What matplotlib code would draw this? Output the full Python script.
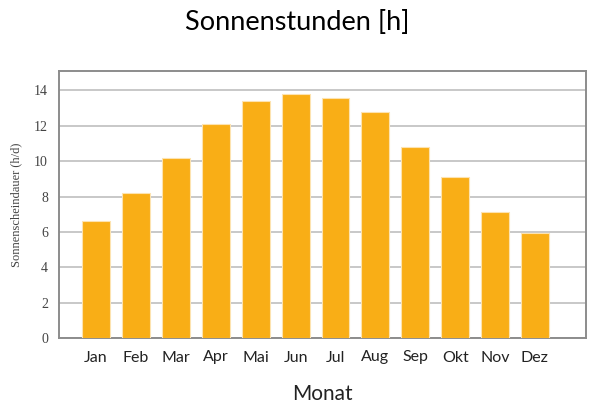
import matplotlib.pyplot as plt
import numpy as np

months = ["Jan", "Feb", "Mar", "Apr", "Mai", "Jun", "Jul", "Aug", "Sep", "Okt", "Nov", "Dez"]
sun_hours = [6.6, 8.2, 10.2, 12.1, 13.4, 13.8, 13.6, 12.8, 10.8, 9.1, 7.1, 5.95]

fig = plt.figure(figsize=(5.89, 4.05), dpi=100)
ax = fig.add_axes([59 / 589, 1 - 338 / 405, (586 - 59) / 589, (338 - 71) / 405])

x = np.arange(len(months))
ax.bar(x, sun_hours, width=0.7, color="#F9AE16", edgecolor="#fde3b0", linewidth=0.8, zorder=3)

ax.set_xlim(-0.93, 12.28)
ax.set_ylim(0, 15.1)
ax.set_yticks(np.arange(0, 15, 2))
ax.set_xticks(x)
ax.set_xticklabels(months, family="Lato", fontsize=11.5, color="#222222")
for lab in ax.get_yticklabels():
    lab.set_family("Liberation Serif")
    lab.set_fontsize(10)
    lab.set_color("#444444")
ax.tick_params(axis="x", length=0, pad=9)
ax.tick_params(axis="y", length=0, pad=8)

ax.grid(axis="y", color="#c8c8c8", linewidth=1.4, zorder=0)
for s in ax.spines.values():
    s.set_color("#8c8c8c")
    s.set_linewidth(1.4)

ax.set_ylabel("Sonnenscheindauer (h/d)", family="Liberation Serif", fontsize=9, color="#444444", labelpad=8)
ax.set_xlabel("Monat", family="Lato", fontsize=15, color="#222222", labelpad=14)
fig.suptitle("Sonnenstunden [h]", family="Lato", fontsize=19.5, x=0.505, y=0.975)

fig.savefig("out.png", dpi=100)
